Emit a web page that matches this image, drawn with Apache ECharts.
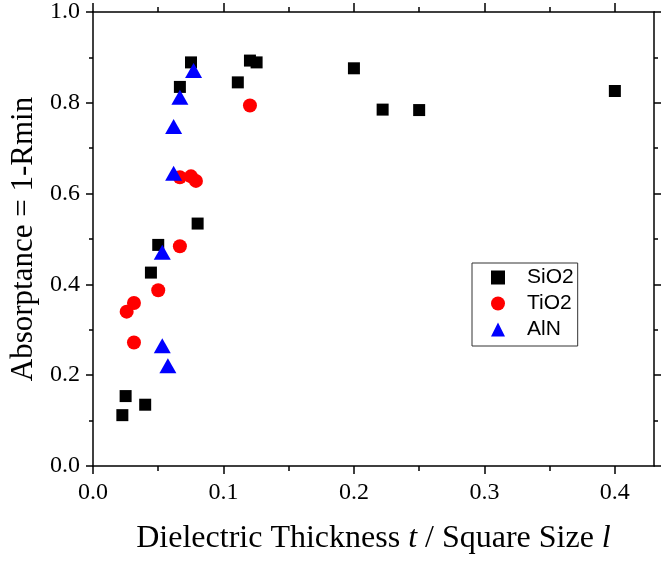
<!DOCTYPE html>
<html>
<head>
<meta charset="utf-8">
<script src="https://cdn.jsdelivr.net/npm/echarts@6/dist/echarts.min.js"></script>
<style>
  html, body { margin: 0; padding: 0; background: #fff; }
  #main { width: 662px; height: 561px; }
</style>
</head>
<body>
<div id="main"></div>
<script>
// values
var sio2X = [0.0225, 0.025, 0.040, 0.0444, 0.050, 0.0666, 0.0751, 0.0802, 0.111, 0.1203, 0.1254, 0.200, 0.222, 0.250, 0.400];
var sio2Y = [0.112, 0.154, 0.135, 0.426, 0.487, 0.835, 0.889, 0.534, 0.845, 0.893, 0.889, 0.876, 0.785, 0.784, 0.826];

var tio2X = [0.0258, 0.0314, 0.0314, 0.050, 0.0666, 0.0666, 0.0751, 0.0789, 0.1203];
var tio2Y = [0.340, 0.359, 0.272, 0.387, 0.484, 0.636, 0.638, 0.628, 0.794];

var alnX = [0.0531, 0.0574, 0.0531, 0.0618, 0.0618, 0.0666, 0.0771];
var alnY = [0.265, 0.221, 0.471, 0.645, 0.748, 0.812, 0.871];

var xMajor = [0, 0.1, 0.2, 0.3, 0.4];
var xMinor = [0.05, 0.15, 0.25, 0.35];

function pairs(xs, ys) {
  var out = [];
  for (var i = 0; i < xs.length; i++) {
    out.push([xs[i], ys[i]]);
  }
  return out;
}

var serif = '"Liberation Serif", "Times New Roman", serif';
var sans = '"Liberation Sans", Arial, sans-serif';
var lineStyle = { color: '#000', width: 1.5 };

// x axis: labelled major ticks + a second axis just for the minor ticks
function xAxisOf(pos, major, withLabels) {
  return {
    type: 'value',
    position: pos,
    min: 0,
    max: 0.43,
    interval: 0.1,
    axisLine: { show: major, onZero: false, lineStyle: lineStyle },
    axisTick: {
      show: true,
      inside: false,
      length: major ? 8 : 5,
      customValues: major ? xMajor : xMinor,
      lineStyle: lineStyle
    },
    axisLabel: {
      show: withLabels,
      customValues: xMajor,
      fontFamily: serif,
      fontSize: 24,
      color: '#000',
      margin: 15,
      formatter: function (v) { return v.toFixed(1); }
    },
    splitLine: { show: false }
  };
}

var xAxes = [
  xAxisOf('bottom', true, true),
  xAxisOf('bottom', false, false),
  xAxisOf('top', true, false),
  xAxisOf('top', false, false)
];
xAxes[0].name = 'Dielectric Thickness {i|t} / Square Size {i|l}';
xAxes[0].nameLocation = 'middle';
xAxes[0].nameGap = 57;
xAxes[0].nameTextStyle = {
  fontFamily: serif, fontSize: 32, color: '#000',
  rich: { i: { fontFamily: serif, fontSize: 32, fontStyle: 'italic', color: '#000' } }
};
xAxes[2].axisTick.length = 9;

function yAxisOf(pos, withLabels) {
  return {
    type: 'value',
    position: pos,
    min: 0,
    max: 1,
    interval: 0.2,
    axisLine: { show: true, onZero: false, lineStyle: lineStyle },
    axisTick: { show: true, inside: false, length: 7, lineStyle: lineStyle },
    minorTick: { show: true, splitNumber: 2, length: 4, lineStyle: lineStyle },
    axisLabel: {
      show: withLabels,
      fontFamily: serif,
      fontSize: 24,
      color: '#000',
      margin: 13,
      formatter: function (v) { return v.toFixed(1); }
    },
    splitLine: { show: false },
    minorSplitLine: { show: false }
  };
}

var yAxes = [yAxisOf('left', true), yAxisOf('right', false)];
yAxes[0].name = 'Absorptance = 1-Rmin';
yAxes[0].nameLocation = 'middle';
yAxes[0].nameGap = 52;
yAxes[0].nameTextStyle = { fontFamily: serif, fontSize: 31, color: '#000' };

var chart = echarts.init(document.getElementById('main'));
chart.setOption({
  animation: false,
  backgroundColor: '#fff',
  grid: { left: 93, right: 8, top: 12, bottom: 95 },
  legend: {
    orient: 'vertical',
    left: 472,
    top: 263,
    padding: [4, 4, 6, 19],
    itemGap: 5,
    itemWidth: 14,
    itemHeight: 14,
    backgroundColor: '#fff',
    borderColor: '#333',
    borderWidth: 1,
    borderRadius: 0,
    textStyle: { fontFamily: sans, fontSize: 21, color: '#000', padding: [0, 0, 0, 17] },
    data: ['SiO2', 'TiO2', 'AlN']
  },
  xAxis: xAxes,
  yAxis: yAxes,
  series: [
    {
      name: 'SiO2',
      type: 'scatter',
      symbol: 'rect',
      symbolSize: 12,
      itemStyle: { color: '#000', opacity: 1 },
      data: pairs(sio2X, sio2Y)
    },
    {
      name: 'TiO2',
      type: 'scatter',
      symbol: 'circle',
      symbolSize: 14,
      itemStyle: { color: '#ff0000', opacity: 1 },
      data: pairs(tio2X, tio2Y)
    },
    {
      name: 'AlN',
      type: 'scatter',
      symbol: 'triangle',
      symbolSize: [17, 15],
      itemStyle: { color: '#0000ff', opacity: 1 },
      data: pairs(alnX, alnY)
    }
  ]
});
</script>
</body>
</html>
